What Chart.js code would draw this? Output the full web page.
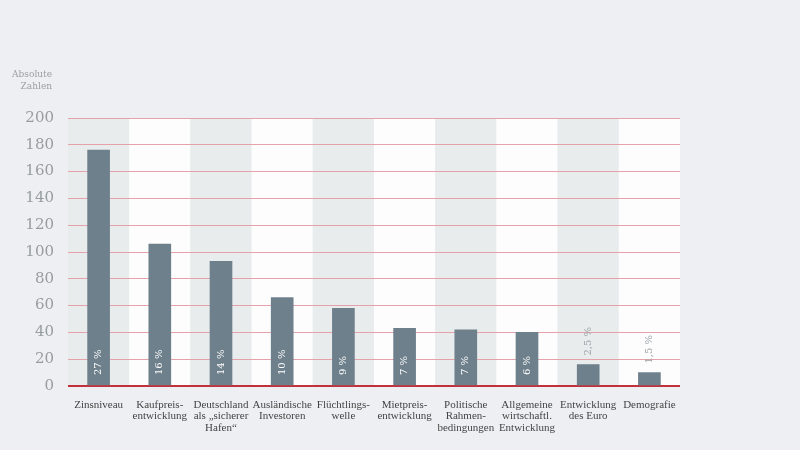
<!DOCTYPE html>
<html>
<head>
<meta charset="utf-8">
<script src="https://cdn.jsdelivr.net/npm/chart.js@4/dist/chart.umd.min.js"></script>
<style>
  html, body { margin: 0; padding: 0; background: #edeff2; }
  #wrap { width: 800px; height: 450px; }
</style>
</head>
<body>
<div id="wrap"><canvas id="myChart" width="800" height="450"></canvas></div>
<script>
// Data
const categories = [
  ['Zinsniveau'],
  ['Kaufpreis-', 'entwicklung'],
  ['Deutschland', 'als \u201esicherer', 'Hafen\u201c'],
  ['Ausländische', 'Investoren'],
  ['Flüchtlings-', 'welle'],
  ['Mietpreis-', 'entwicklung'],
  ['Politische', 'Rahmen-', 'bedingungen'],
  ['Allgemeine', 'wirtschaftl.', 'Entwicklung'],
  ['Entwicklung', 'des Euro'],
  ['Demografie']
];
const absolute = [176, 106, 93, 66, 58, 43, 42, 40, 16, 10];
const shares = ['27 %', '16 %', '14 %', '10 %', '9 %', '7 %', '7 %', '6 %', '2,5 %', '1,5 %'];
const yTicks = [0, 20, 40, 60, 80, 100, 120, 140, 160, 180, 200];
const yTitle = ['Absolute', 'Zahlen'];

const serif = '"DejaVu Serif", "Liberation Serif", serif';
const labelSerif = '"Liberation Serif", "DejaVu Serif", serif';

// striped columns behind the grid
const columnBands = {
  id: 'columnBands',
  beforeDraw(chart) {
    const ctx = chart.ctx;
    const x = chart.scales.x;
    const area = chart.chartArea;
    const w = (area.right - area.left) / categories.length;
    ctx.save();
    for (let i = 0; i < categories.length; i++) {
      const cx = x.getPixelForTick(i);
      ctx.fillStyle = i % 2 === 0 ? '#e8eced' : '#fdfdfd';
      ctx.fillRect(cx - w / 2, area.top, w, area.bottom - area.top);
    }
    ctx.restore();
  }
};

// percentage labels, rotated, inside the bar (or above short ones)
const shareLabels = {
  id: 'shareLabels',
  afterDatasetsDraw(chart) {
    const ctx = chart.ctx;
    const meta = chart.getDatasetMeta(0);
    ctx.save();
    ctx.font = '10px ' + serif;
    ctx.textBaseline = 'middle';
    meta.data.forEach((bar, i) => {
      const h = bar.base - bar.y;
      const tw = ctx.measureText(shares[i]).width;
      ctx.save();
      if (h > tw + 16) {
        ctx.translate(bar.x, bar.base - 10);
        ctx.fillStyle = '#ffffff';
      } else {
        ctx.translate(bar.x, bar.y - 9);
        ctx.fillStyle = '#9aa0a6';
      }
      ctx.rotate(-Math.PI / 2);
      ctx.textAlign = 'left';
      ctx.fillText(shares[i], 0, 0);
      ctx.restore();
    });
    // y axis caption
    const y = chart.scales.y;
    ctx.font = '9px ' + serif;
    ctx.fillStyle = '#9a9ea3';
    ctx.textAlign = 'right';
    ctx.textBaseline = 'middle';
    yTitle.forEach((t, k) => ctx.fillText(t, y.right - 16, 75 + k * 12));
    ctx.restore();
  }
};

const ctx = document.getElementById('myChart').getContext('2d');
new Chart(ctx, {
  type: 'bar',
  data: {
    labels: categories,
    datasets: [{
      label: 'Absolute Zahlen',
      data: absolute,
      backgroundColor: '#6e808c',
      barThickness: 22
    }]
  },
  options: {
    responsive: false,
    animation: false,
    layout: { padding: { top: 118, right: 120, left: 0, bottom: 0 } },
    plugins: {
      legend: { display: false },
      tooltip: { enabled: false }
    },
    scales: {
      x: {
        grid: { display: false },
        border: { display: false },
        ticks: {
          color: '#444444',
          font: { family: labelSerif, size: 11, lineHeight: 1.05 },
          padding: 5,
          maxRotation: 0,
          autoSkip: false
        },
        afterFit(scale) { scale.height = 64; }
      },
      y: {
        min: 0,
        max: 200,
        afterBuildTicks(scale) { scale.ticks = yTicks.map(v => ({ value: v })); },
        border: { display: false },
        grid: {
          drawTicks: false,
          color: c => c.tick && c.tick.value === 0 ? '#c0313b' : '#e6a2aa',
          lineWidth: c => c.tick && c.tick.value === 0 ? 2 : 1
        },
        ticks: {
          color: '#979ca0',
          font: { family: serif, size: 15 },
          padding: 14
        },
        afterFit(scale) { scale.width = 68; }
      }
    }
  },
  plugins: [columnBands, shareLabels]
});
</script>
</body>
</html>
